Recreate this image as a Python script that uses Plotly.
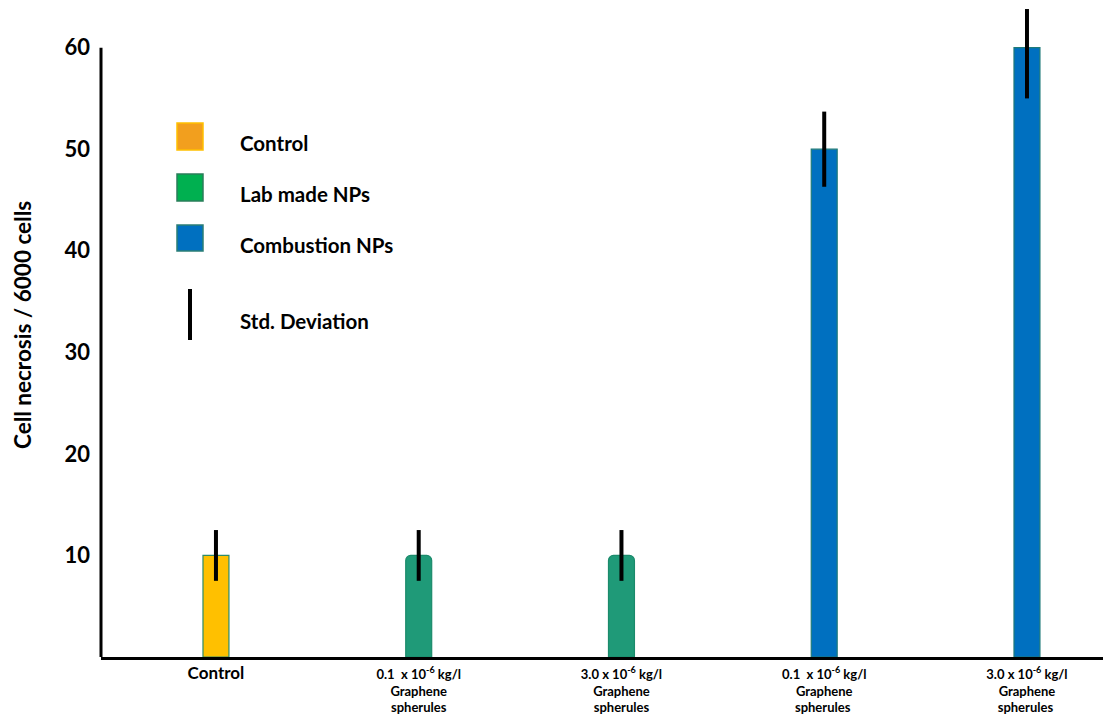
import plotly.graph_objects as go

categories = [
    "<span style='font-size:17px'>Control</span>",
    "0.1  x 10<sup>-6</sup> kg/l<br>Graphene<br>spherules",
    "3.0 x 10<sup>-6</sup> kg/l<br>Graphene<br>spherules",
    "0.1  x 10<sup>-6</sup> kg/l<br>Graphene<br>spherules ",
    "3.0 x 10<sup>-6</sup> kg/l<br>Graphene<br>spherules ",
]
groups = ["Control", "Lab made NPs", "Lab made NPs", "Combustion NPs", "Combustion NPs"]
values = [10, 10, 10, 50, 60]
err_plus = [2.5, 2.5, 2.5, 3.7, 3.8]
err_minus = [2.5, 2.5, 2.5, 3.7, 5.0]
y_ticks = [10, 20, 30, 40, 50, 60]
y_axis_top = 60

FONT = "Lato"
styles = {
    "Control": dict(fill="#FFC000", line="#2E8B6A", radius=0),
    "Lab made NPs": dict(fill="#1F9A78", line="#1B8A6B", radius=5),
    "Combustion NPs": dict(fill="#0070C0", line="#1F7A78", radius=0),
}

fig = go.Figure()
for g in ["Control", "Lab made NPs", "Combustion NPs"]:
    idx = [i for i, gg in enumerate(groups) if gg == g]
    st = styles[g]
    fig.add_trace(go.Bar(
        x=[categories[i] for i in idx],
        y=[values[i] for i in idx],
        width=0.128,
        marker=dict(color=st["fill"], line=dict(color=st["line"], width=1.2),
                    cornerradius=st["radius"]),
        error_y=dict(type="data", symmetric=False,
                     array=[err_plus[i] for i in idx],
                     arrayminus=[err_minus[i] for i in idx],
                     color="black", thickness=4, width=0),
        cliponaxis=False,
        showlegend=False,
        name=g,
    ))

W, H = 1103, 717
L, R, T, B = 101, 0, 7, 60
pw, ph = W - L - R, H - T - B

def px(x):
    return (x - L) / pw

def py(y):
    return (H - B - y) / ph

shapes = []
annotations = []
legend_items = [
    ("Control", "#F29F1E", "#FFC000", 123, 150, 143),
    ("Lab made NPs", "#00B050", "#2A7D5A", 174, 201, 194),
    ("Combustion NPs", "#0070C0", "#2A7D75", 225, 251, 245),
]
for name, fill, line, y0, y1, ty in legend_items:
    shapes.append(dict(type="rect", xref="paper", yref="paper",
                       x0=px(177), x1=px(203), y0=py(y1), y1=py(y0),
                       fillcolor=fill, line=dict(color=line, width=1.5)))
    annotations.append(dict(text=name, xref="paper", yref="paper", x=px(238), y=py(ty),
                            xanchor="left", yanchor="middle", showarrow=False,
                            font=dict(family=FONT, size=20.5, color="black", weight="bold")))
shapes.append(dict(type="line", xref="paper", yref="paper", x0=px(190), x1=px(190),
                   y0=py(340), y1=py(289), line=dict(color="black", width=4)))
annotations.append(dict(text="Std. Deviation", xref="paper", yref="paper", x=px(238), y=py(321),
                        xanchor="left", yanchor="middle", showarrow=False,
                        font=dict(family=FONT, size=20.5, color="black", weight="bold")))
annotations.append(dict(text="Cell necrosis / 6000 cells", xref="paper", yref="paper",
                        x=px(22), y=py(325), xanchor="center", yanchor="middle",
                        textangle=-90, showarrow=False,
                        font=dict(family=FONT, size=22.5, color="black", weight="bold")))
# y axis line, only up to 60
shapes.append(dict(type="line", xref="paper", yref="y", x0=0, x1=0, y0=0, y1=y_axis_top,
                   line=dict(color="black", width=3), layer="above"))

fig.update_layout(
    width=W, height=H,
    margin=dict(l=L, r=R, t=T, b=B, pad=0, autoexpand=False),
    paper_bgcolor="white", plot_bgcolor="white",
    barmode="overlay",
    shapes=shapes, annotations=annotations,
    font=dict(family=FONT, color="black"),
)
fig.update_xaxes(
    type="category", categoryorder="array", categoryarray=categories,
    range=[-0.567, 4.375], automargin=False,
    showline=True, linecolor="black", linewidth=3,
    showgrid=False, zeroline=False, ticks="", ticklabelstandoff=3,
    tickfont=dict(family=FONT, size=13, color="black", weight="bold"),
)
fig.update_yaxes(
    range=[0, 64.0], tickvals=y_ticks, automargin=False,
    showline=False,
    showgrid=False, zeroline=False, ticks="", ticklabelstandoff=10,
    tickfont=dict(family=FONT, size=22, color="black", weight="bold"),
)

fig.write_html("out.html", config={"displayModeBar": False},
               post_script="document.body.style.margin='0';")
